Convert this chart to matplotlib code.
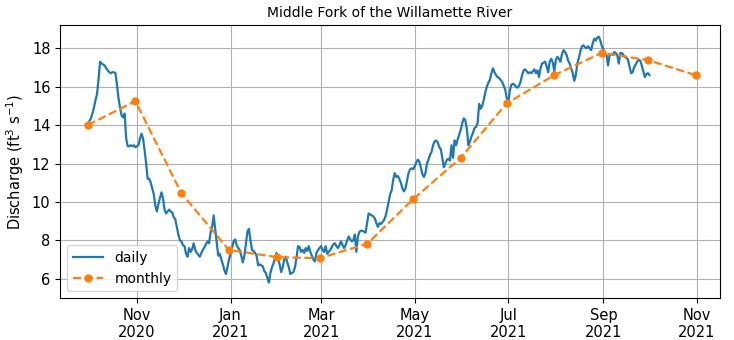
import matplotlib
matplotlib.use("Agg")
import matplotlib.pyplot as plt
import matplotlib.dates as mdates
import pandas as pd

plt.rcParams['font.family'] = ['DejaVu Sans']

daily_start = "2020-09-30"
daily_values = [
    14.0, 14.2, 14.35, 14.6, 14.9, 15.3, 15.6, 16.4, 17.3, 17.2,
    17.15, 17.1, 16.95, 16.85, 16.75, 16.7, 16.75, 16.75, 16.7, 16.1,
    15.4, 14.9, 14.5, 14.4, 14.6, 13.3, 12.9, 12.9, 12.95, 12.9,
    12.95, 12.85, 12.9, 12.95, 13.3, 13.55, 13.3, 12.7, 12.0, 11.2,
    11.2, 11.0, 10.7, 10.4, 9.8, 9.5, 9.9, 10.2, 10.5, 10.2,
    9.6, 9.4, 9.5, 9.6, 9.5, 9.45, 9.2, 9.1, 8.7, 8.3,
    8.0, 7.95, 7.75, 7.7, 7.3, 7.15, 7.6, 7.4, 7.55, 7.85,
    7.5, 7.35, 7.25, 7.15, 7.35, 7.5, 7.65, 7.8, 7.95, 7.85,
    8.4, 8.7, 9.3, 8.6, 7.9, 7.2, 7.3, 7.0, 6.75, 6.45,
    6.25, 6.6, 7.0, 7.3, 7.6, 7.95, 8.05, 7.75, 7.6, 7.5,
    7.2, 6.85, 7.2, 7.8, 8.45, 8.6, 8.0, 7.5, 7.45, 7.35,
    7.2, 6.7, 6.75, 6.7, 6.65, 6.4, 6.3, 6.05, 5.8, 6.3,
    6.6, 6.8, 7.1, 7.35, 7.0, 6.75, 6.35, 6.6, 7.0, 7.15,
    6.85, 6.6, 6.25, 6.3, 6.35, 6.6, 7.1, 7.7, 7.65, 7.4,
    7.5, 7.35, 7.6, 7.45, 7.7, 7.4, 7.2, 7.0, 6.9, 7.35,
    7.5, 7.6, 7.7, 7.5, 7.4, 7.7, 7.3, 7.4, 7.5, 7.65,
    7.8, 7.85, 7.7, 7.6, 7.75, 7.95, 7.75, 7.6, 7.75, 8.0,
    8.2, 8.05, 7.95, 8.0, 8.3, 7.4, 8.2, 8.45, 8.5, 8.5,
    8.45, 8.4, 8.9, 9.4, 9.35, 9.3, 9.25, 9.15, 8.9, 8.7,
    8.9, 8.85, 8.95, 9.05, 9.25, 9.6, 10.0, 10.4, 10.6, 11.15,
    11.5, 11.3, 11.35, 11.2, 11.0, 10.7, 10.55, 10.7, 11.1, 11.5,
    11.7, 11.75, 11.7, 11.85, 12.05, 12.2, 12.1, 11.8, 11.45, 11.3,
    11.5, 12.0, 12.2, 12.45, 12.6, 12.95, 13.15, 13.2, 13.1, 12.85,
    12.75, 12.3, 11.8, 12.0, 12.2, 12.25, 12.15, 12.95, 12.3, 13.2,
    12.95, 13.25, 13.5, 13.75, 14.1, 14.35, 14.25, 13.8, 12.95, 13.15,
    13.4, 13.6, 13.85, 13.9, 14.1, 15.1, 14.85, 15.0, 15.3, 15.7,
    16.0, 16.2, 16.35, 16.7, 16.95, 16.75, 16.6, 16.5, 16.45, 16.35,
    16.25, 16.05, 15.85, 15.4, 15.1, 15.8, 16.1, 16.15, 16.1, 16.0,
    15.95, 16.05, 16.25, 16.6, 16.85, 16.9, 16.8, 16.7, 16.75, 16.7,
    16.8, 16.9, 16.7, 16.85, 16.5, 16.95, 17.2, 17.25, 17.3, 17.05,
    16.75, 17.3, 17.45, 17.25, 16.8, 17.4, 17.55, 17.45, 17.3, 17.7,
    17.9, 17.8, 17.65, 17.35, 17.2, 16.95, 16.7, 16.3, 16.6, 17.2,
    17.5, 17.85, 18.1, 18.15, 18.05, 18.0, 18.1, 18.0, 17.9, 18.25,
    18.5, 18.4, 18.55, 18.6, 18.4, 18.1, 17.95, 17.7, 17.65, 17.1,
    17.65, 17.7, 17.65, 17.8, 17.75, 17.65, 17.2, 17.75, 17.75, 17.65,
    17.55, 17.5, 17.4, 17.05, 16.7, 16.75, 17.0, 17.15, 17.3, 17.4,
    17.35, 17.1, 16.8, 16.5, 16.65, 16.7, 16.6,
]

monthly_dates = ["2020-09-30", "2020-10-31", "2020-11-30", "2020-12-31",
                 "2021-01-31", "2021-02-28", "2021-03-31", "2021-04-30",
                 "2021-05-31", "2021-06-30", "2021-07-31", "2021-08-31",
                 "2021-09-30", "2021-10-31"]
monthly_values = [14.0, 15.25, 10.45, 7.5, 7.13, 7.07, 7.82, 10.14,
                  12.29, 15.13, 16.6, 17.76, 17.38, 16.6]

title = "Middle Fork of the Willamette River"
ylabel = "Discharge (ft$^3$ s$^{-1}$)"
series_labels = ["daily", "monthly"]

daily_dates = pd.date_range(daily_start, periods=len(daily_values), freq="D")
monthly_idx = pd.to_datetime(monthly_dates)

fig = plt.figure(figsize=(7.34, 3.40), dpi=100)
ax = fig.add_axes([0.082, 0.1235, 0.899, 0.8025])

ax.plot(daily_dates, daily_values, color="tab:blue", lw=1.6, label=series_labels[0])
ax.plot(monthly_idx, monthly_values, color="tab:orange", lw=1.6, ls="--",
        marker="o", ms=5, label=series_labels[1])

ax.xaxis.set_major_locator(mdates.MonthLocator(bymonth=[1, 3, 5, 7, 9, 11]))
ax.xaxis.set_major_formatter(mdates.DateFormatter("%b\n%Y"))
ax.set_xlim(pd.Timestamp("2020-09-12"), pd.Timestamp("2021-11-16"))
ax.set_ylim(5.0, 19.2)
ax.set_yticks([6, 8, 10, 12, 14, 16, 18])
ax.grid(True, color="#b0b0b0", lw=0.8)
ax.tick_params(labelsize=10.5)
ax.set_ylabel(ylabel, fontsize=10.5)
ax.set_title(title, fontsize=10)
ax.legend(loc="lower left", fontsize=10, handlelength=2.2)

fig.savefig("out.png", dpi=100)
